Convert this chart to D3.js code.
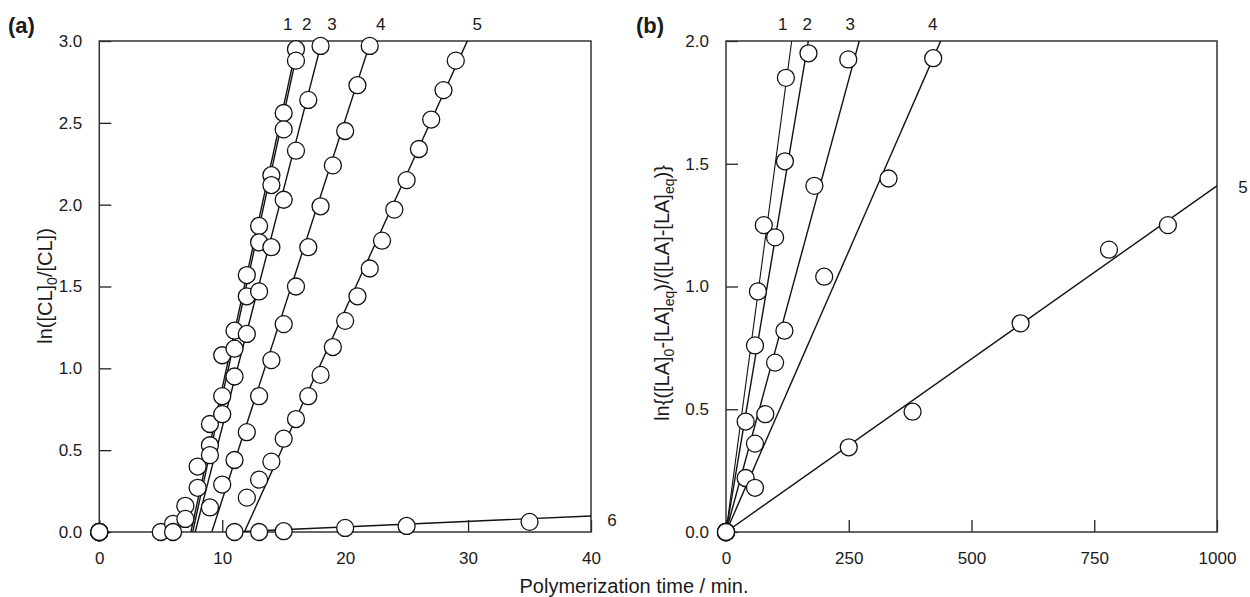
<html>
  <head>
    <script src="https://d3js.org/d3.v7.min.js"></script>
    <style>
      body { margin: 0; background: #fff; }
      text { font-family: "Liberation Sans", Arial, sans-serif; fill: #1a1a1a; }
    </style>
  </head>
  <body>
    <script>
      // ---- data, panel (a): ln([CL]0/[CL]) vs time (min)
      var timeA1 = [0, 5, 6, 7, 8, 9, 10, 11, 12, 13, 14, 15, 16]
      var lnA1   = [0, 0, 0.05, 0.16, 0.40, 0.66, 1.08, 1.23, 1.57, 1.87, 2.18, 2.56, 2.95]
      var timeA2 = [0, 6, 7, 8, 9, 10, 11, 12, 13, 14, 15, 16]
      var lnA2   = [0, 0, 0.08, 0.27, 0.53, 0.83, 1.12, 1.44, 1.77, 2.12, 2.46, 2.88]
      var timeA3 = [0, 9, 10, 11, 12, 13, 14, 15, 16, 17, 18]
      var lnA3   = [0, 0.47, 0.72, 0.95, 1.21, 1.47, 1.74, 2.03, 2.33, 2.64, 2.97]
      var timeA4 = [0, 9, 10, 11, 12, 13, 14, 15, 16, 17, 18, 19, 20, 21, 22]
      var lnA4   = [0, 0.15, 0.29, 0.44, 0.61, 0.83, 1.05, 1.27, 1.50, 1.74, 1.99, 2.24, 2.45, 2.73, 2.97]
      var timeA5 = [0, 11, 12, 13, 14, 15, 16, 17, 18, 19, 20, 21, 22, 23, 24, 25, 26, 27, 28, 29]
      var lnA5   = [0, 0, 0.21, 0.32, 0.43, 0.57, 0.69, 0.83, 0.96, 1.13, 1.29, 1.44, 1.61, 1.78, 1.97, 2.15, 2.34, 2.52, 2.70, 2.88]
      var timeA6 = [0, 13, 15, 20, 25, 35]
      var lnA6   = [0, 0, 0.005, 0.025, 0.037, 0.062]
      // fitted lines: x-intercept and slope
      var fitStartA = [7.45, 7.6, 7.8, 9.15, 11.8, 10.7]
      var fitSlopeA = [0.345, 0.3448, 0.291, 0.232, 0.1654, 0.00335]
      var seriesNamesA = ["1", "2", "3", "4", "5", "6"]

      // ---- data, panel (b): ln{([LA]0-[LA]eq)/([LA]-[LA]eq)} vs time (min)
      var timeB1 = [0, 40, 65, 77, 122]
      var lnB1   = [0, 0.45, 0.98, 1.25, 1.85]
      var timeB2 = [0, 59, 100, 120, 168]
      var lnB2   = [0, 0.76, 1.20, 1.51, 1.95]
      var timeB3 = [0, 40, 59, 80, 100, 119, 180, 249]
      var lnB3   = [0, 0.22, 0.36, 0.48, 0.69, 0.82, 1.41, 1.925]
      var timeB4 = [0, 59, 200, 331, 422]
      var lnB4   = [0, 0.18, 1.04, 1.44, 1.93]
      var timeB5 = [0, 250, 380, 600, 780, 900]
      var lnB5   = [0, 0.345, 0.49, 0.85, 1.15, 1.25]
      var fitSlopeB = [0.01495, 0.01193, 0.00737, 0.004575, 0.00141]
      var seriesNamesB = ["1", "2", "3", "4", "5"]

      var xTicksA = [0, 10, 20, 30, 40]
      var xTicksB = [0, 250, 500, 750, 1000]
      var yTicksA = [0, 0.5, 1.0, 1.5, 2.0, 2.5, 3.0]
      var yTicksB = [0, 0.5, 1.0, 1.5, 2.0]

      var seriesA = [[timeA1, lnA1], [timeA2, lnA2], [timeA3, lnA3], [timeA4, lnA4], [timeA5, lnA5], [timeA6, lnA6]]
      var seriesB = [[timeB1, lnB1], [timeB2, lnB2], [timeB3, lnB3], [timeB4, lnB4], [timeB5, lnB5]]

      var width = 1250
      var height = 597
      var plotTop = 41, plotBottom = 532
      var rad = 8.5
      var fs = 17

      var svg = d3.select("body").append("svg")
        .attr("width", width)
        .attr("height", height);

      function panel(opt) {
        var x = d3.scaleLinear().domain(opt.xDomain).range([opt.left, opt.right]);
        var y = d3.scaleLinear().domain(opt.yDomain).range([plotBottom, plotTop]);
        var g = svg.append("g");

        g.append("clipPath").attr("id", opt.id + "clip")
          .append("rect")
          .attr("x", opt.left).attr("y", plotTop)
          .attr("width", opt.right - opt.left).attr("height", plotBottom - plotTop);

        // axes with inward ticks
        var ax = g.append("g").attr("transform", "translate(0," + plotBottom + ")")
          .call(d3.axisBottom(x).tickValues(opt.xTicks).tickSizeInner(-12).tickSizeOuter(0).tickPadding(20)
            .tickFormat(d3.format("d")));
        var ay = g.append("g").attr("transform", "translate(" + opt.left + ",0)")
          .call(d3.axisLeft(y).tickValues(opt.yTicks).tickSizeInner(-12).tickSizeOuter(0).tickPadding(17)
            .tickFormat(d3.format(".1f")));
        [ax, ay].forEach(function(a) {
          a.select(".domain").remove();
          a.selectAll("line").attr("stroke", "#222").attr("stroke-width", 1.3);
          a.selectAll("text").attr("font-size", fs).attr("fill", "#1a1a1a")
            .style("font-family", "Liberation Sans, Arial, sans-serif");
        });

        g.append("rect")
          .attr("x", opt.left).attr("y", plotTop)
          .attr("width", opt.right - opt.left).attr("height", plotBottom - plotTop)
          .attr("fill", "none").attr("stroke", "#333").attr("stroke-width", 1.5);

        // fitted lines
        var lines = g.append("g").attr("clip-path", "url(#" + opt.id + "clip)");
        opt.fits.forEach(function(f) {
          lines.append("line")
            .attr("x1", x(f.x0)).attr("y1", y(f.y0))
            .attr("x2", x(f.x1)).attr("y2", y(f.y1))
            .attr("stroke", "#111").attr("stroke-width", f.w || 1.4);
        });

        // points
        opt.series.forEach(function(s) {
          var pts = s[0].map(function(t, i) { return [t, s[1][i]]; });
          g.append("g").selectAll("circle").data(pts).enter().append("circle")
            .attr("cx", function(d) { return x(d[0]); })
            .attr("cy", function(d) { return y(d[1]); })
            .attr("r", rad)
            .attr("fill", "white")
            .attr("stroke", "#111")
            .attr("stroke-width", 1.3);
        });

        // series labels
        opt.labels.forEach(function(l) {
          g.append("text")
            .attr("x", l.x).attr("y", l.y)
            .attr("text-anchor", "middle")
            .attr("font-size", fs)
            .text(l.t);
        });

        // panel tag
        g.append("text")
          .attr("x", opt.tagX).attr("y", 33)
          .attr("font-size", 22).attr("font-weight", "bold")
          .text(opt.tag);

        return {x: x, y: y, g: g};
      }

      // ---- panel (a)
      var xA = d3.scaleLinear().domain([0, 40]).range([99.3, 591]);
      var yA = d3.scaleLinear().domain([0, 3]).range([plotBottom, plotTop]);
      var fitsA = fitStartA.map(function(t0, i) {
        var k = fitSlopeA[i];
        var t1 = Math.min(40, t0 + 3.05 / k);
        return {x0: t0, y0: 0, x1: t1, y1: k * (t1 - t0)};
      });
      var labelDxA = [-10, 7, 10, 10, 10];
      var labelsA = seriesNamesA.slice(0, 5).map(function(n, i) {
        var t1 = fitStartA[i] + 3 / fitSlopeA[i];
        return {t: n, x: xA(t1) + labelDxA[i], y: 30};
      });
      labelsA.push({t: seriesNamesA[5], x: xA(40) + 21, y: yA(fitSlopeA[5] * (40 - fitStartA[5])) + 10});

      panel({
        id: "a", tag: "(a)", tagX: 8,
        left: 99.3, right: 591,
        xDomain: [0, 40], yDomain: [0, 3],
        xTicks: xTicksA, yTicks: yTicksA,
        fits: fitsA, series: seriesA, labels: labelsA
      });

      // ---- panel (b)
      var xB = d3.scaleLinear().domain([0, 1000]).range([726, 1217]);
      var yB = d3.scaleLinear().domain([0, 2]).range([plotBottom, plotTop]);
      var fitsB = fitSlopeB.map(function(k, i) {
        var t1 = Math.min(1000, 2.05 / k);
        return {x0: 0, y0: 0, x1: t1, y1: k * t1, w: i === 0 ? 1.1 : 1.4};
      });
      var labelDxB = [-9, -1, -9, -8];
      var labelsB = seriesNamesB.slice(0, 4).map(function(n, i) {
        return {t: n, x: xB(2 / fitSlopeB[i]) + labelDxB[i], y: 30};
      });
      labelsB.push({t: seriesNamesB[4], x: xB(1000) + 26, y: yB(fitSlopeB[4] * 1000) + 7});

      panel({
        id: "b", tag: "(b)", tagX: 636,
        left: 726, right: 1217,
        xDomain: [0, 1000], yDomain: [0, 2],
        xTicks: xTicksB, yTicks: yTicksB,
        fits: fitsB, series: seriesB, labels: labelsB
      });

      // ---- axis titles
      var tfs = 20, sfs = 14
      var ta = svg.append("text")
        .attr("transform", "translate(52,286) rotate(-90)")
        .attr("text-anchor", "middle")
        .attr("font-size", tfs);
      ta.append("tspan").text("ln([CL]");
      ta.append("tspan").attr("font-size", sfs).attr("dy", 5).text("0");
      ta.append("tspan").attr("dy", -5).text("/[CL])");

      var tb = svg.append("text")
        .attr("transform", "translate(669,293) rotate(-90)")
        .attr("text-anchor", "middle")
        .attr("font-size", tfs);
      tb.append("tspan").text("ln{([LA]");
      tb.append("tspan").attr("font-size", sfs).attr("dy", 5).text("0");
      tb.append("tspan").attr("dy", -5).text("-[LA]");
      tb.append("tspan").attr("font-size", sfs).attr("dy", 5).text("eq");
      tb.append("tspan").attr("dy", -5).text(")/([LA]-[LA]");
      tb.append("tspan").attr("font-size", sfs).attr("dy", 5).text("eq");
      tb.append("tspan").attr("dy", -5).text(")}");

      svg.append("text")
        .attr("x", 634).attr("y", 593)
        .attr("text-anchor", "middle")
        .attr("font-size", 20)
        .text("Polymerization time / min.");
    </script>
  </body>
</html>
